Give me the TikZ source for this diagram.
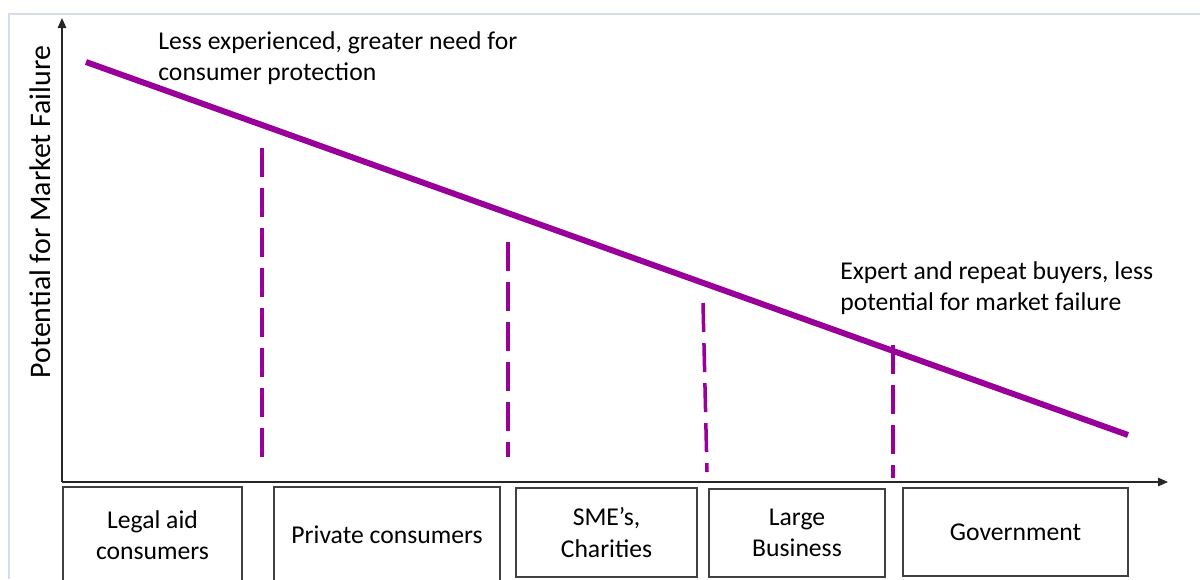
\documentclass[tikz,border=0pt]{standalone}
\usepackage{fontspec}
\usetikzlibrary{arrows.meta}
\setmainfont{Carlito}
\definecolor{viola}{RGB}{153,0,153}
\definecolor{cornice}{RGB}{214,221,234}
\definecolor{bordo}{RGB}{64,64,64}
\begin{document}
\begin{tikzpicture}[x=0.02cm, y=-0.02cm, font=\fontsize{14.6}{17.8}\selectfont,
    categoria/.style={draw=bordo, line width=0.7pt, align=center, minimum width=#1},
    soglia/.style={viola, line width=2pt, dash pattern=on 16.5pt off 6.3pt},
    asse/.style={-{Triangle[length=2mm, width=1.7mm]}, line width=0.8pt, black!85}]
    \useasboundingbox (0,0) rectangle (1200,579);
    % Cornice
    \draw[cornice, line width=1pt] (1200,14) -- (9,14) -- (9,579);

    % Assi
    \coordinate (O) at (62,482);
    \coordinate (ytop) at (62,18);
    \coordinate (xend) at (1168,482);
    \draw[asse] (O) -- (ytop);
    \draw[asse] (O) -- (xend);
    \node[rotate=90, font=\fontsize{17}{20}\selectfont] (ylab) at (40,212) {Potential for Market Failure};

    % Retta
    \coordinate (a) at (86,62);
    \coordinate (b) at (1128,435);
    \draw[viola, line width=3.4pt] (a) -- (b);

    % Note
    \node[anchor=west, align=left, inner sep=0pt] (alto) at (158,58) {Less experienced, greater need for\\consumer protection};
    \node[anchor=west, align=left, inner sep=0pt] (basso) at (840,288) {Expert and repeat buyers, less\\potential for market failure};

    % Linee tratteggiate
    \coordinate (s1) at (262,148); \coordinate (t1) at (262,462);
    \coordinate (s2) at (508,242); \coordinate (t2) at (508,457);
    \coordinate (s3) at (703,303); \coordinate (t3) at (707,472);
    \coordinate (s4) at (893,345); \coordinate (t4) at (893,478);
    \draw[soglia] (s1) -- (t1);
    \draw[soglia] (s2) -- (t2);
    \draw[soglia] (s3) -- (t3);
    \draw[soglia] (s4) -- (t4);

    % Categorie
    \node[categoria=3.58cm, minimum height=1.92cm] (legal) at (152.5,535) {Legal aid\\consumers};
    \node[categoria=4.52cm, minimum height=1.92cm] (private) at (387,535) {Private consumers};
    \node[categoria=3.62cm, minimum height=1.78cm] (sme) at (606.5,532.5) {SME’s,\\Charities};
    \node[categoria=3.52cm, minimum height=1.76cm] (large) at (797,533) {Large\\Business};
    \node[categoria=4.50cm, minimum height=1.76cm] (gov) at (1015.5,532) {Government};
\end{tikzpicture}
\end{document}
